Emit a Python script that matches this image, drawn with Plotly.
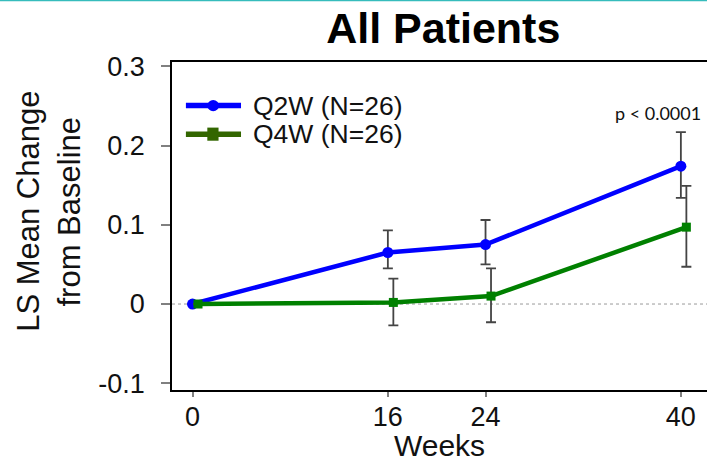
import plotly.graph_objects as go

weeks = [0, 16, 24, 40]
q2w_mean = [0.0, 0.065, 0.075, 0.174]
q2w_upper = [0.0, 0.093, 0.106, 0.217]
q2w_lower = [0.0, 0.045, 0.050, 0.134]
q4w_mean = [0.0, 0.002, 0.010, 0.097]
q4w_upper = [0.0, 0.032, 0.045, 0.149]
q4w_lower = [0.0, -0.027, -0.023, 0.047]
q4w_offset = 0.45
y_ticks = [-0.1, 0, 0.1, 0.2, 0.3]
y_ticktext = ["-0.1", "0", "0.1", "0.2", "0.3"]
x_ticks = [0, 16, 24, 40]

FONT = "Liberation Sans, Arial, sans-serif"

fig = go.Figure()
fig.add_trace(go.Scatter(
    x=weeks, y=q2w_mean, mode="lines+markers",
    line=dict(color="#0000ff", width=4.5),
    marker=dict(symbol="circle", size=11, color="#0000ff"),
    error_y=dict(type="data", symmetric=False,
                 array=[u - m for u, m in zip(q2w_upper, q2w_mean)],
                 arrayminus=[m - l for l, m in zip(q2w_lower, q2w_mean)],
                 color="#444444", thickness=1.8, width=5),
    showlegend=False))
fig.add_trace(go.Scatter(
    x=[w + q4w_offset for w in weeks], y=q4w_mean, mode="lines+markers",
    line=dict(color="#008000", width=4.5),
    marker=dict(symbol="square", size=9, color="#008000"),
    error_y=dict(type="data", symmetric=False,
                 array=[u - m for u, m in zip(q4w_upper, q4w_mean)],
                 arrayminus=[m - l for l, m in zip(q4w_lower, q4w_mean)],
                 color="#444444", thickness=1.8, width=5),
    showlegend=False))

# zero reference line
fig.add_shape(type="line", xref="paper", x0=0, x1=1, yref="y", y0=0, y1=0,
              line=dict(color="#999999", width=1, dash="dot"), layer="below")
# teal accent at top
fig.add_shape(type="rect", xref="paper", yref="paper", x0=-0.33, x1=1.0, y0=1.185, y1=1.195,
              line=dict(width=0), fillcolor="#36bcbc")

# manual legend
leg = [("Q2W (N=26)", "#0000ff", "circle", 0.867), ("Q4W (N=26)", "#336600", "square", 0.78)]
for label, col, sym, yp in leg:
    fig.add_shape(type="line", xref="paper", yref="paper", x0=0.026, x1=0.129, y0=yp, y1=yp,
                  line=dict(color=col, width=5.5))
    if sym == "circle":
        fig.add_shape(type="circle", xref="paper", yref="paper",
                      x0=0.066, x1=0.088, y0=yp - 0.017, y1=yp + 0.017,
                      line=dict(width=0), fillcolor=col)
    else:
        fig.add_shape(type="rect", xref="paper", yref="paper",
                      x0=0.066, x1=0.087, y0=yp - 0.02, y1=yp + 0.02,
                      line=dict(width=0), fillcolor=col)
    fig.add_annotation(text=label, xref="paper", yref="paper", x=0.148, y=yp,
                       xanchor="left", yanchor="middle", showarrow=False,
                       font=dict(family=FONT, size=26.5, color="#111111"))

fig.add_annotation(text="p < 0.0001", x=0.908, xref="paper", y=0.241, yref="y",
                   xanchor="center", yanchor="middle", showarrow=False,
                   font=dict(family="Lato, Open Sans, sans-serif", size=18, color="#111111"))

# y-axis title (two lines)
fig.add_annotation(text="LS Mean Change", xref="paper", yref="paper", x=-0.268, y=0.545,
                   textangle=-90, showarrow=False, xanchor="center", yanchor="middle",
                   font=dict(family=FONT, size=31, color="#111111"))
fig.add_annotation(text="from Baseline", xref="paper", yref="paper", x=-0.192, y=0.545,
                   textangle=-90, showarrow=False, xanchor="center", yanchor="middle",
                   font=dict(family=FONT, size=31, color="#111111"))

fig.update_layout(
    width=707, height=462,
    margin=dict(l=172, r=0, t=62, b=72),
    paper_bgcolor="white", plot_bgcolor="white",
    title=dict(text="<b>All Patients</b>", x=0.627, xanchor="center", y=0.94, yanchor="middle",
               font=dict(family=FONT, size=43, color="black")),
    xaxis=dict(range=[-1.68, 42.14], tickvals=x_ticks, ticks="outside", ticklen=5,
               tickcolor="#808080", tickwidth=1.5, showgrid=False, zeroline=False,
               showline=True, linecolor="black", linewidth=1.5, mirror=True,
               tickfont=dict(family=FONT, size=27, color="#111111"), ticklabelstandoff=-3,
               title=dict(text="Weeks", font=dict(family=FONT, size=30, color="#111111"), standoff=0)),
    yaxis=dict(range=[-0.1085, 0.3054], tickvals=y_ticks, ticktext=y_ticktext, ticks="outside",
               ticklen=9, tickcolor="#808080", tickwidth=1.5, showgrid=False, zeroline=False,
               showline=True, linecolor="black", linewidth=1.5,
               tickfont=dict(family=FONT, size=27, color="#111111"), ticklabelstandoff=11),
)

fig.write_html("out.html")
